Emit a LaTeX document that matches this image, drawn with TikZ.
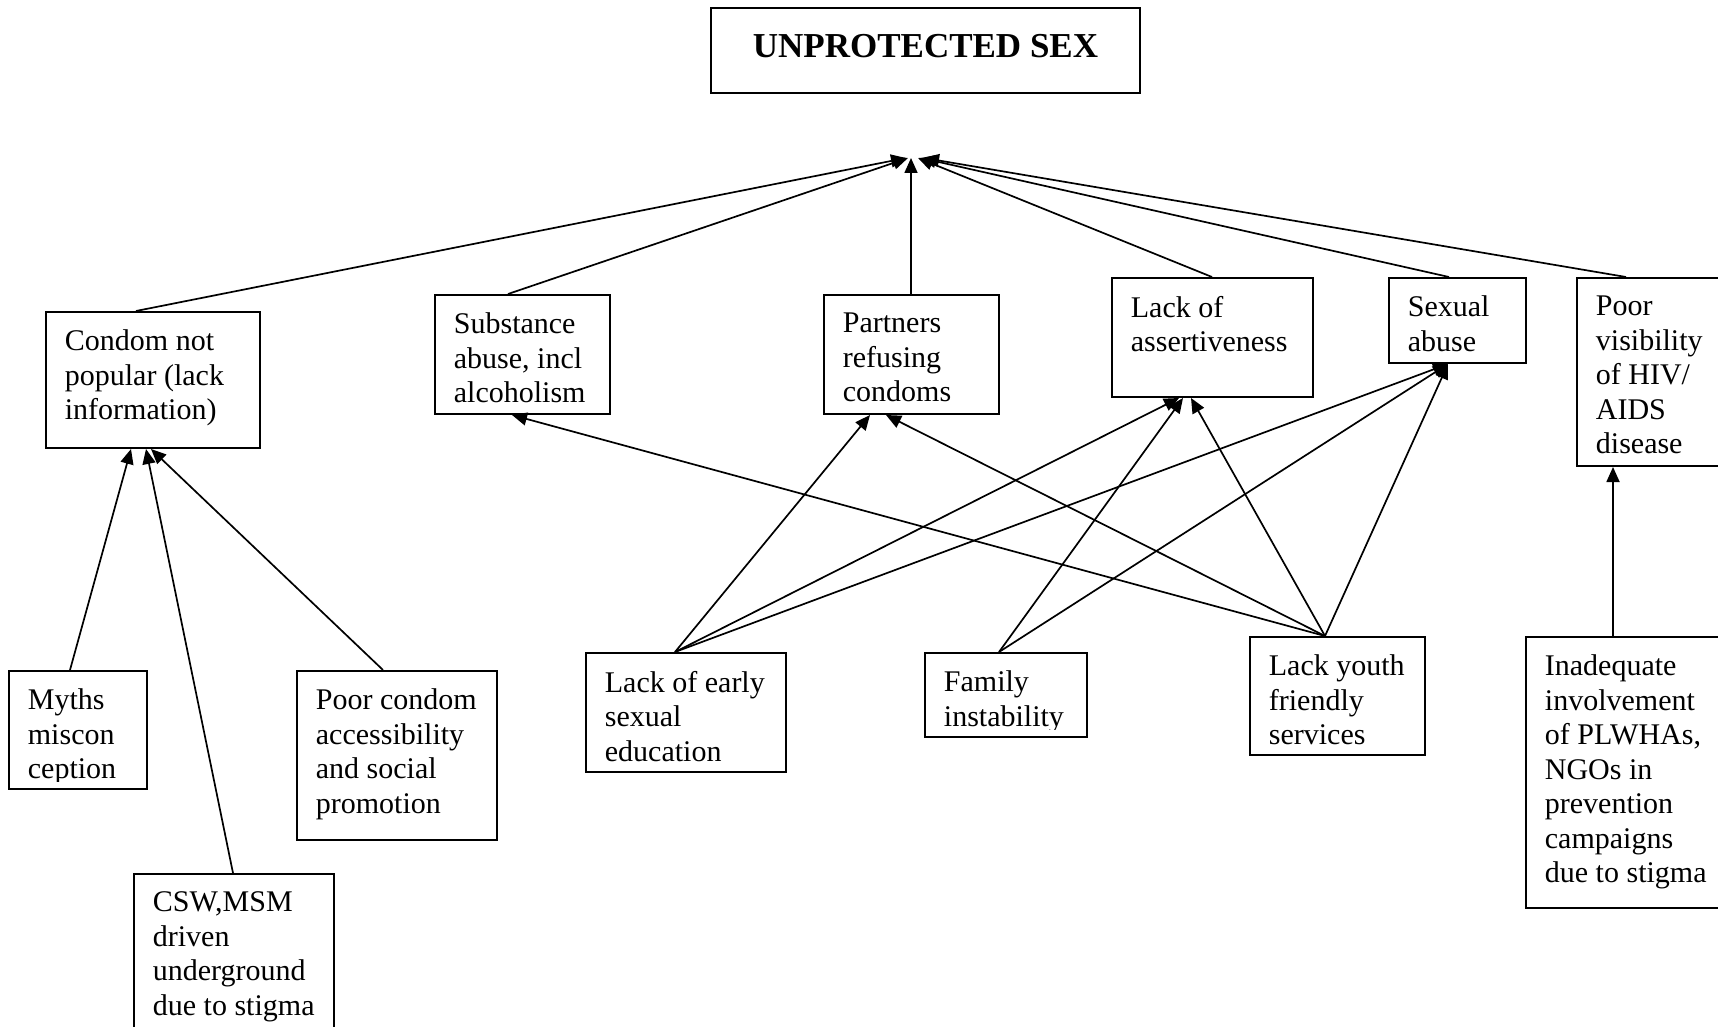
\documentclass[tikz,border=0pt]{standalone}
\usepackage{fontspec}
\setmainfont{Liberation Serif}
\usetikzlibrary{arrows.meta,calc,fit}
\begin{document}
\begin{tikzpicture}[x=0.5pt,y=-0.5pt,
  box/.style={draw,line width=1pt,inner sep=0pt,rectangle},
  txt/.style={anchor=north west,inner sep=0pt,align=left,font=\fontsize{15pt}{17.25pt}\selectfont},
  conn/.style={line width=0.85pt,-{Triangle[length=7.5pt,width=6.5pt]}}
]
\fill[white] (0,0) rectangle (1718,1027);
\useasboundingbox (0,0) rectangle (1718,1027);
\clip (0,0) rectangle (1718,1027);

% boxes
\node[box, fit={(711,8) (1140,93)}] (top) {};
\node[box, fit={(46,312) (260,448)}] (condom) {};
\node[box, fit={(435,295) (610,414)}] (substance) {};
\node[box, fit={(824,295) (999,414)}] (partners) {};
\node[box, fit={(1112,278) (1313,397)}] (assert) {};
\node[box, fit={(1389,278) (1526,363)}] (sexual) {};
\node[box, fit={(1577,278) (1740,466)}] (poorvis) {};
\node[box, fit={(9,671) (147,789)}] (myths) {};
\node[box, fit={(297,671) (497,840)}] (poorcondom) {};
\node[box, fit={(134,874) (334,1040)}] (csw) {};
\node[box, fit={(586,653) (786,772)}] (early) {};
\node[box, fit={(925,653) (1087,737)}] (family) {};
\node[box, fit={(1250,637) (1425,755)}] (youth) {};
\node[box, fit={(1526,637) (1740,908)}] (inadequate) {};

% texts
\node[anchor=base,inner sep=0pt,font=\bfseries\fontsize{17.5pt}{21pt}\selectfont] (topT) at (925.5,58) {UNPROTECTED SEX};
\node[txt] (condomT) at ($(condom.north west)+(19.5,18.5)$) {Condom not\\popular (lack\\information)};
\node[txt] (substanceT) at ($(substance.north west)+(19.5,18.5)$) {Substance\\abuse, incl\\alcoholism};
\node[txt] (partnersT) at ($(partners.north west)+(19.5,18.5)$) {Partners\\refusing\\condoms};
\node[txt] (assertT) at ($(assert.north west)+(19.5,18.5)$) {Lack of\\assertiveness};
\node[txt] (sexualT) at ($(sexual.north west)+(19.5,18.5)$) {Sexual\\abuse};
\node[txt] (poorvisT) at ($(poorvis.north west)+(19.5,18.5)$) {Poor\\visibility\\of HIV/\\AIDS\\disease};
\begin{scope}
\clip (0,671) rectangle (160,781);
\node[txt] (mythsT) at ($(myths.north west)+(19.5,18.5)$) {Myths\\miscon\\ception};
\end{scope}
\node[txt] (poorcondomT) at ($(poorcondom.north west)+(19.5,18.5)$) {Poor condom\\accessibility\\and social\\promotion};
\node[txt] (cswT) at ($(csw.north west)+(19.5,18.5)$) {CSW,MSM\\driven\\underground\\due to stigma};
\node[txt] (earlyT) at ($(early.north west)+(19.5,18.5)$) {Lack of early\\sexual\\education};
\begin{scope}
\clip (925,653) rectangle (1087,729);
\node[txt] (familyT) at ($(family.north west)+(19.5,18.5)$) {Family\\instability};
\end{scope}
\node[txt] (youthT) at ($(youth.north west)+(19.5,18.5)$) {Lack youth\\friendly\\services};
\node[txt] (inadequateT) at ($(inadequate.north west)+(19.5,18.5)$) {Inadequate\\involvement\\of PLWHAs,\\NGOs in\\prevention\\campaigns\\due to stigma};

% hub under the top box
\coordinate (hub) at (911,158);

% connectors to the hub
\draw[conn] ($(condom.north west)+(91,0)$) -- ($(hub)+(-5,0)$);
\draw[conn] ($(substance.north west)+(74,0)$) -- ($(hub)+(-3,0)$);
\draw[conn] (partners.north -| hub) -- (hub);
\draw[conn] ($(assert.north west)+(101,0)$) -- ($(hub)+(7,0)$);
\draw[conn] ($(sexual.north west)+(61,0)$) -- ($(hub)+(10,0)$);
\draw[conn] ($(poorvis.north west)+(50,0)$) -- ($(hub)+(13,0)$);

% condom causes
\draw[conn] ($(myths.north west)+(62,0)$) -- ($(condom.south west)+(86,0)$);
\draw[conn] ($(csw.north west)+(100,0)$) -- ($(condom.south west)+(101,0)$);
\draw[conn] ($(poorcondom.north west)+(87,0)$) -- ($(condom.south west)+(106,0)$);

% lack youth friendly services
\draw[conn] ($(youth.north west)+(76,0)$) -- ($(substance.south west)+(78,0)$);
\draw[conn] ($(youth.north west)+(76,0)$) -- ($(partners.south west)+(63,0)$);
\draw[conn] ($(youth.north west)+(76,0)$) -- ($(assert.south west)+(80,0)$);
\draw[conn] ($(youth.north west)+(76,0)$) -- ($(sexual.south west)+(60,0)$);

% lack of early sexual education
\draw[conn] ($(early.north west)+(90,0)$) -- ($(partners.south west)+(47,0)$);
\draw[conn] ($(early.north west)+(90,0)$) -- ($(assert.south west)+(68,0)$);
\draw[conn] ($(early.north west)+(90,0)$) -- ($(sexual.south west)+(60,0)$);

% family instability
\draw[conn] ($(family.north west)+(75,0)$) -- ($(assert.south west)+(72,0)$);
\draw[conn] ($(family.north west)+(75,0)$) -- ($(sexual.south west)+(60,0)$);

% inadequate involvement
\draw[conn] ($(inadequate.north west)+(88,0)$) -- ($(poorvis.south west)+(37,0)$);
\end{tikzpicture}
\end{document}
